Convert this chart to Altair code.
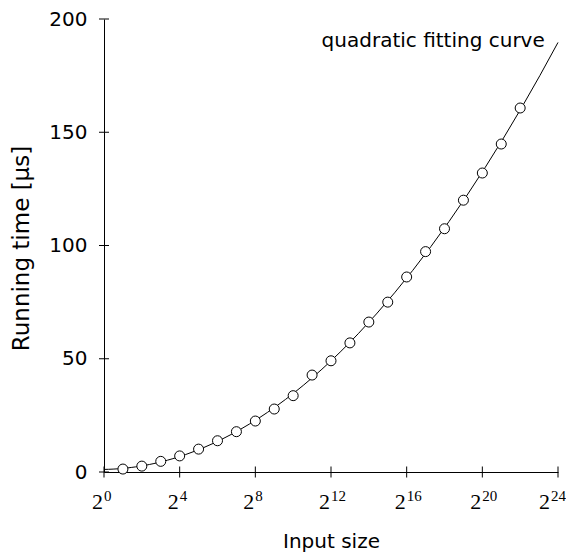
import altair as alt
import pandas as pd

# ---- data ----
exponents = list(range(1, 23))
times = [1.3, 2.6, 4.7, 7.1, 10.1, 13.8, 17.8, 22.5, 27.8, 33.7, 42.8,
         49.1, 57.0, 66.2, 75.0, 86.1, 97.3, 107.4, 120.0, 132.0, 144.8, 160.7]
x_ticks = [0, 4, 8, 12, 16, 20, 24]
y_ticks = [0, 50, 100, 150, 200]
curve_label = ["quadratic fitting curve"]
label_x = [23.3]
label_y = [187.8]

df = pd.DataFrame({"n": exponents, "t": times})
xt = pd.DataFrame({"v": x_ticks, "base": ["2"] * len(x_ticks),
                   "exp": [str(v) for v in x_ticks], "zero": [0] * len(x_ticks)})
yt = pd.DataFrame({"v": y_ticks, "zero": [0] * len(y_ticks)})
ann = pd.DataFrame({"x": label_x, "y": label_y, "text": curve_label})

xscale = alt.Scale(domain=[0, 24], nice=False, zero=False)
yscale = alt.Scale(domain=[0, 200], nice=False)
SANS = "DejaVu Sans"
SERIF = "Liberation Serif"

x_axis = alt.Axis(
    title="Input size", labels=False, ticks=False, grid=False,
    domainColor="black", domainWidth=1,
    titleFont=SANS, titleFontSize=20, titleFontWeight="normal",
    titleColor="black", titleX=227, titleY=75,
    titleAlign="center", titleBaseline="alphabetic")
y_axis = alt.Axis(
    title="Running time [μs]", values=y_ticks, ticks=False, grid=False,
    domainColor="black", domainWidth=1, labelPadding=17,
    labelFont=SANS, labelFontSize=20, labelColor="black",
    titleFont=SANS, titleFontSize=23, titleFontWeight="normal",
    titleColor="black", titleX=-83, titleY=229, titleAngle=270,
    titleAlign="center", titleBaseline="middle")


def X(field):
    return alt.X(field, type="quantitative", scale=xscale, axis=x_axis)


def Y(field):
    return alt.Y(field, type="quantitative", scale=yscale, axis=y_axis)


curve = alt.Chart(df).transform_regression(
    "n", "t", method="poly", order=2, extent=[0, 24]
).mark_line(color="black", strokeWidth=1).encode(x=X("n"), y=Y("t"))

points = alt.Chart(df).mark_point(
    shape="circle", filled=True, fill="white", stroke="black",
    strokeWidth=1, size=100, opacity=1
).encode(x=X("n"), y=Y("t"))

xtick_marks = alt.Chart(xt).mark_tick(
    orient="vertical", size=11, thickness=1, color="black", opacity=1
).encode(x=X("v"), y=Y("zero"))

ytick_marks = alt.Chart(yt).mark_tick(
    orient="horizontal", size=10, thickness=1, color="black", opacity=1
).encode(y=Y("v"), x=X("zero"))

xlab_base = alt.Chart(xt).transform_filter("datum.v < 24").mark_text(
    align="right", baseline="alphabetic", dx=-1, dy=37,
    font=SERIF, fontSize=22, color="black"
).encode(x=X("v"), y=Y("zero"), text="base:N")

xlab_exp = alt.Chart(xt).transform_filter("datum.v < 24").mark_text(
    align="left", baseline="alphabetic", dx=0, dy=29,
    font=SERIF, fontSize=15, color="black"
).encode(x=X("v"), y=Y("zero"), text="exp:N")

xlab_base_last = alt.Chart(xt).transform_filter("datum.v >= 24").mark_text(
    align="right", baseline="alphabetic", dx=-8, dy=37,
    font=SERIF, fontSize=22, color="black"
).encode(x=X("v"), y=Y("zero"), text="base:N")

xlab_exp_last = alt.Chart(xt).transform_filter("datum.v >= 24").mark_text(
    align="left", baseline="alphabetic", dx=-7, dy=29,
    font=SERIF, fontSize=15, color="black"
).encode(x=X("v"), y=Y("zero"), text="exp:N")

annotation = alt.Chart(ann).mark_text(
    align="right", baseline="alphabetic", font=SANS, fontSize=20, color="black"
).encode(x=X("x"), y=Y("y"), text="text:N")

chart = alt.layer(
    curve, points, xtick_marks, ytick_marks, xlab_base, xlab_exp,
    xlab_base_last, xlab_exp_last, annotation
).properties(
    width=454, height=453,
    autosize=alt.AutoSizeParams(type="none"),
    padding={"left": 96, "top": 11, "right": 8, "bottom": 80},
).configure_view(stroke=None)

chart.save("out.html", embed_options={"renderer": "svg", "actions": False})
